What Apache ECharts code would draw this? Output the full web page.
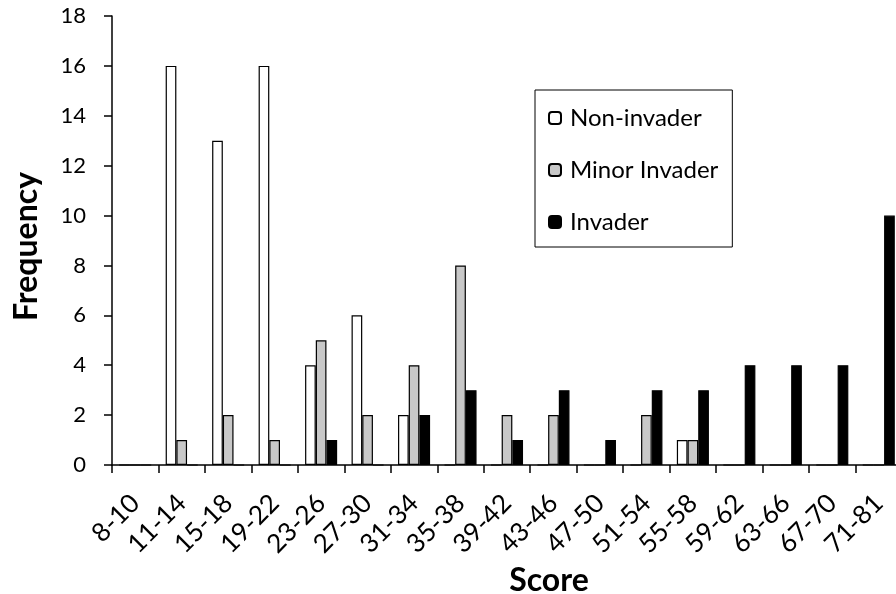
<!DOCTYPE html>
<html>
<head>
<meta charset="utf-8">
<script src="https://cdn.jsdelivr.net/npm/echarts@6/dist/echarts.min.js"></script>
<style>
html,body{margin:0;padding:0;background:#fff;overflow:hidden;}
#chart{width:896px;height:594px;}
</style>
</head>
<body>
<div id="chart"></div>
<script>
const categories = ['8-10','11-14','15-18','19-22','23-26','27-30','31-34','35-38','39-42','43-46','47-50','51-54','55-58','59-62','63-66','67-70','71-81'];
const nonInvader   = [0,16,13,16,4,6,2,0,0,0,0,0,1,0,0,0,0];
const minorInvader = [0,1,2,1,5,2,4,8,2,2,0,2,1,0,0,0,0];
const invader      = [0,0,0,0,1,0,2,3,1,3,1,3,3,4,4,4,10];
const yTicks = {min:0, max:18, interval:2};

const FONT = 'Lato, "Open Sans", sans-serif';
const chart = echarts.init(document.getElementById('chart'));
const barBorder = {borderColor:'#000', borderWidth:1.2};
chart.setOption({
  animation:false,
  textStyle:{fontFamily:FONT},
  grid:{left:112, top:16, width:790, height:449, containLabel:false, outerBoundsMode:'none'},
  legend:{
    orient:'vertical', left:535, top:90,
    itemWidth:12, itemHeight:12, itemGap:28,
    padding:[16,14,13,13],
    borderColor:'#000', borderWidth:1,
    textStyle:{fontFamily:FONT, fontSize:24, color:'#000', lineHeight:24, padding:[0,0,0,4]},
    data:['Non-invader','Minor Invader','Invader']
  },
  xAxis:{
    type:'category', data:categories,
    name:'Score', nameLocation:'middle', nameGap:98,
    nameTextStyle:{fontFamily:FONT, fontSize:32, fontWeight:'bold', color:'#000', padding:[0,0,0,84]},
    axisLine:{lineStyle:{color:'#000', width:1.5}},
    axisTick:{show:true, length:8, interval:0, lineStyle:{color:'#000', width:1.5}},
    axisLabel:{interval:0, rotate:45, fontSize:26, color:'#000', margin:34, padding:[30,0,0,0], fontFamily:FONT},
    splitLine:{show:false}
  },
  yAxis:{
    type:'value', min:yTicks.min, max:yTicks.max, interval:yTicks.interval,
    name:'Frequency', nameLocation:'middle', nameGap:69, nameRotate:90,
    nameTextStyle:{fontFamily:FONT, fontSize:32, fontWeight:'bold', color:'#000', padding:[0,12,0,0]},
    axisLine:{show:true, lineStyle:{color:'#000', width:1.5}},
    axisTick:{show:true, length:8, lineStyle:{color:'#000', width:1.5}},
    axisLabel:{fontSize:22, color:'#000', margin:26, fontFamily:FONT},
    splitLine:{show:false}
  },
  series:[
    {name:'Non-invader', type:'bar', data:nonInvader, barGap:'0%', barCategoryGap:'31%',
     itemStyle:Object.assign({color:'#ffffff'}, barBorder)},
    {name:'Minor Invader', type:'bar', data:minorInvader, barGap:'0%', barCategoryGap:'31%',
     itemStyle:Object.assign({color:'#c8c8c8'}, barBorder)},
    {name:'Invader', type:'bar', data:invader, barGap:'0%', barCategoryGap:'31%',
     itemStyle:Object.assign({color:'#000000'}, barBorder)}
  ]
});
</script>
</body>
</html>
